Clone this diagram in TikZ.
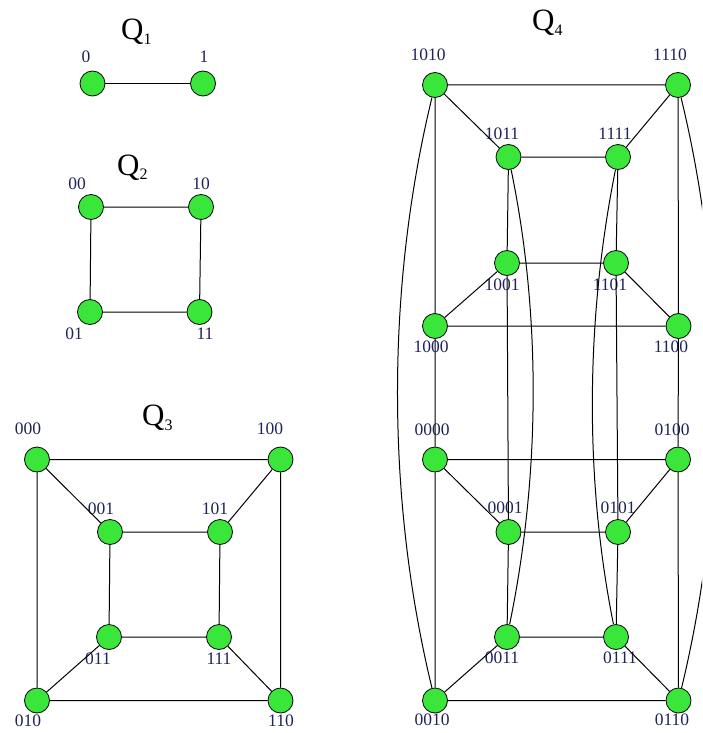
\documentclass[tikz,border=0pt]{standalone}
\usepackage{fontspec}
\setmainfont{Liberation Serif}
\definecolor{nodegreen}{RGB}{58,230,58}
\definecolor{lblblue}{RGB}{30,35,90}
\newcommand{\qsub}[1]{\raisebox{-5pt}{\fontsize{16}{16}\selectfont #1}}
\begin{document}
\begin{tikzpicture}[x=1pt,y=-1pt,
  vtx/.style={circle,draw=black,line width=0.8pt,fill=nodegreen,minimum size=25pt,inner sep=0pt},
  lbl/.style={text=lblblue,font=\fontsize{17.5}{17.5}\selectfont,inner sep=0pt},
  ttl/.style={font=\fontsize{31}{31}\selectfont,inner sep=0pt,anchor=base west},
  edge/.style={line width=1pt,black}]
\clip (0,0) rectangle (702,733);
% titles
\node[ttl] (T1) at (121,40) {Q\qsub{1}};
\node[ttl] (T2) at (117,175) {Q\qsub{2}};
\node[ttl] (T3) at (142,425) {Q\qsub{3}};
\node[ttl] (T4) at (532,31) {Q\qsub{4}};
% labels
\node[lbl] (l0) at (86,57) {0};
\node[lbl] (l1) at (204,57) {1};
\node[lbl] (l00) at (77,184) {00};
\node[lbl] (l10) at (201,184) {10};
\node[lbl] (l01) at (74,334) {01};
\node[lbl] (l11) at (205,334) {11};
\node[lbl] (l000) at (28,429) {000};
\node[lbl] (l100) at (270,429) {100};
\node[lbl] (l001) at (101,509) {001};
\node[lbl] (l101) at (215,509) {101};
\node[lbl] (l011) at (98,659) {011};
\node[lbl] (l111) at (219,659) {111};
\node[lbl] (l010) at (28,721) {010};
\node[lbl] (l110) at (281,721) {110};
\node[lbl] (m1010) at (428,55) {1010};
\node[lbl] (m1110) at (670,55) {1110};
\node[lbl] (m1011) at (502,134) {1011};
\node[lbl] (m1111) at (615,134) {1111};
\node[lbl] (m1001) at (502,285) {1001};
\node[lbl] (m1101) at (610,285) {1101};
\node[lbl] (m1000) at (431,347) {1000};
\node[lbl] (m1100) at (671,347) {1100};
\node[lbl] (m0000) at (432,430) {0000};
\node[lbl] (m0100) at (672,430) {0100};
\node[lbl] (m0001) at (505,508) {0001};
\node[lbl] (m0101) at (618,508) {0101};
\node[lbl] (m0011) at (502,658) {0011};
\node[lbl] (m0111) at (620,658) {0111};
\node[lbl] (m0010) at (432,720) {0010};
\node[lbl] (m0110) at (672,720) {0110};
% Q1 nodes
\node[vtx] (a0) at (92.5,83.5) {};
\node[vtx] (a1) at (203,83.5) {};
% Q2
\node[vtx] (b00) at (91,207) {};
\node[vtx] (b10) at (201,207) {};
\node[vtx] (b01) at (90,312) {};
\node[vtx] (b11) at (199.5,312) {};
% Q3
\node[vtx] (c000) at (37,459.5) {};
\node[vtx] (c100) at (280.5,459.5) {};
\node[vtx] (c001) at (110,532) {};
\node[vtx] (c101) at (220,532) {};
\node[vtx] (c011) at (109,637) {};
\node[vtx] (c111) at (219,637) {};
\node[vtx] (c010) at (37,700.5) {};
\node[vtx] (c110) at (280.5,700.5) {};
% Q4
\node[vtx] (d1010) at (435,85) {};
\node[vtx] (d1110) at (678,85) {};
\node[vtx] (d1011) at (508.5,157) {};
\node[vtx] (d1111) at (618,157) {};
\node[vtx] (d1001) at (507,263) {};
\node[vtx] (d1101) at (616,263) {};
\node[vtx] (d1000) at (435,326) {};
\node[vtx] (d1100) at (678.5,326) {};
\node[vtx] (d0000) at (435,459.5) {};
\node[vtx] (d0100) at (678,459.5) {};
\node[vtx] (d0001) at (508.5,532) {};
\node[vtx] (d0101) at (618,532) {};
\node[vtx] (d0011) at (507,637) {};
\node[vtx] (d0111) at (616,637) {};
\node[vtx] (d0010) at (435,700.5) {};
\node[vtx] (d0110) at (678.5,700.5) {};
% edges
\draw[edge] (a0) -- (a1);
\draw[edge] (b00) -- (b10) (b00) -- (b01) (b10) -- (b11) (b01) -- (b11);
\draw[edge] (c000) -- (c100) (c000) -- (c010) (c100) -- (c110) (c010) -- (c110)
  (c001) -- (c101) (c001) -- (c011) (c101) -- (c111) (c011) -- (c111)
  (c000) -- (c001) (c100) -- (c101) (c010) -- (c011) (c110) -- (c111);
\draw[edge] (d1010) -- (d1110) (d1010) -- (d1000) (d1110) -- (d1100) (d1000) -- (d1100)
  (d1011) -- (d1111) (d1011) -- (d1001) (d1111) -- (d1101) (d1001) -- (d1101)
  (d1010) -- (d1011) (d1110) -- (d1111) (d1000) -- (d1001) (d1100) -- (d1101);
\draw[edge] (d0000) -- (d0100) (d0000) -- (d0010) (d0100) -- (d0110) (d0010) -- (d0110)
  (d0001) -- (d0101) (d0001) -- (d0011) (d0101) -- (d0111) (d0011) -- (d0111)
  (d0000) -- (d0001) (d0100) -- (d0101) (d0010) -- (d0011) (d0110) -- (d0111);
\draw[edge] (d1000) -- (d0000) (d1100) -- (d0100) (d1001) -- (d0001) (d1101) -- (d0101);
\draw[edge] (d1010) .. controls +(-49,202) and +(-49,-202) .. (d0010);
\draw[edge] (d1110) .. controls +(49,202) and +(49,-202) .. (d0110);
\draw[edge] (d1011) .. controls +(33,160) and +(33,-160) .. (d0011);
\draw[edge] (d1111) .. controls +(-32,160) and +(-32,-160) .. (d0111);
\end{tikzpicture}
\end{document}
